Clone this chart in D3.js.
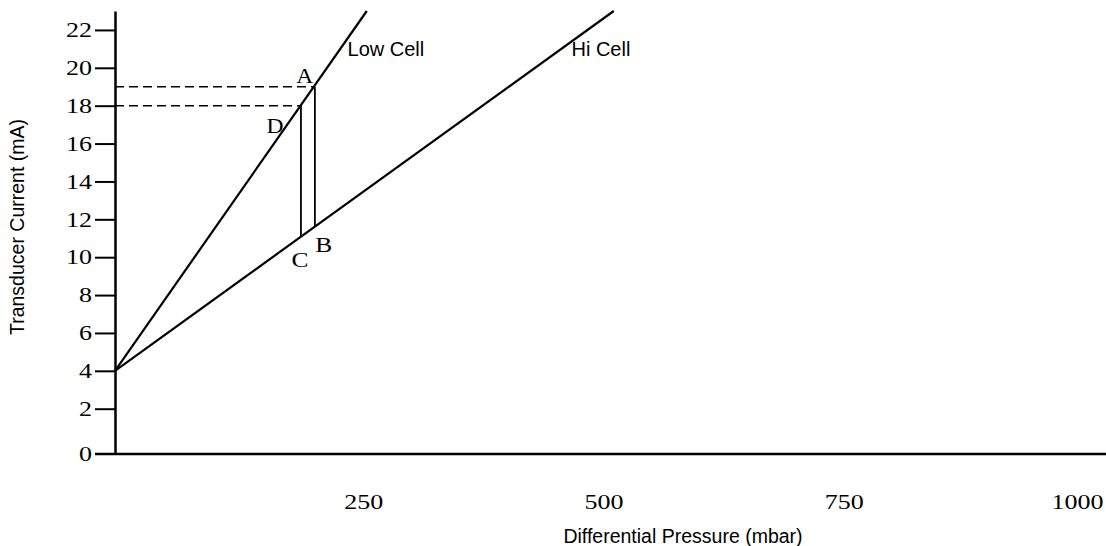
<!DOCTYPE html>
<html>
<head>
<meta charset="utf-8">
<script src="https://cdn.jsdelivr.net/npm/d3@7"></script>
<style>
  html, body { margin: 0; padding: 0; background: #fff; }
  svg { display: block; }
</style>
</head>
<body>
<svg id="chart" width="1106" height="546"></svg>
<script>
// ---- data ----
const xTickValues = [250, 500, 750, 1000];
const yTickValues = [0, 2, 4, 6, 8, 10, 12, 14, 16, 18, 20, 22];
const lowCell = [[0, 4], [262, 23]];
const hiCell = [[0, 4], [519, 23]];
const pointNames = ["A", "B", "C", "D"];
const pointPressure = [208, 208, 193.5, 193.5];
const pointCurrent = [19, 11.62, 11.08, 18];
const seriesNames = ["Low Cell", "Hi Cell"];
const seriesLabelAt = [[242, 20.6], [475, 20.6]];
const xTitle = "Differential Pressure (mbar)";
const yTitle = "Transducer Current (mA)";

// ---- scales ----
const W = 1106;
const svg = d3.select("#chart");
const x = d3.scaleLinear().domain([0, 1000]).range([115, 1076]);
const y = d3.scaleLinear().domain([0, 2, 23]).range([454, 408.7, 11]);

const serif = "'Liberation Serif', 'Times New Roman', serif";
const sans = "'Liberation Sans', Arial, sans-serif";

// ---- y axis ----
const yAxis = svg.append("g")
  .attr("transform", `translate(${x(0)},0)`)
  .call(d3.axisLeft(y).tickValues(yTickValues).tickSize(20).tickSizeOuter(0).tickPadding(3).tickFormat(d3.format("d")));
yAxis.select(".domain").attr("stroke", "#000").attr("stroke-width", 2.5);
yAxis.selectAll(".tick line").attr("stroke", "#000").attr("stroke-width", 2);
yAxis.selectAll(".tick text")
  .attr("font-family", serif).attr("font-size", 21).attr("fill", "#000")
  .attr("textLength", d => String(d).length * 13)
  .attr("lengthAdjust", "spacingAndGlyphs");
yAxis.selectAll(".tick").filter(d => d === 0).select("line").remove();

// ---- x axis ----
svg.append("line")
  .attr("x1", x(0) - 20).attr("x2", W)
  .attr("y1", y(0)).attr("y2", y(0))
  .attr("stroke", "#000").attr("stroke-width", 2.5);
const xAxis = svg.append("g")
  .attr("transform", `translate(0,${y(0)})`)
  .call(d3.axisBottom(x).tickValues(xTickValues).tickSize(0).tickPadding(40).tickFormat(d3.format("d")));
xAxis.select(".domain").remove();
xAxis.selectAll(".tick text")
  .attr("font-family", serif).attr("font-size", 21).attr("fill", "#000")
  .attr("textLength", d => String(d).length * 13)
  .attr("lengthAdjust", "spacingAndGlyphs")
  .attr("dx", d => Math.min(8, W - 3 - x(d) - String(d).length * 6.5));

// ---- titles ----
svg.append("text")
  .attr("x", 683).attr("y", 543)
  .attr("text-anchor", "middle")
  .attr("font-family", sans).attr("font-size", 19.5)
  .text(xTitle);
svg.append("text")
  .attr("transform", `translate(24,227) rotate(-90)`)
  .attr("text-anchor", "middle")
  .attr("font-family", sans).attr("font-size", 19.5)
  .text(yTitle);

// ---- cell lines ----
const line = d3.line().x(d => x(d[0])).y(d => y(d[1]));
[lowCell, hiCell].forEach(s => {
  svg.append("path").datum(s)
    .attr("d", line)
    .attr("fill", "none").attr("stroke", "#000").attr("stroke-width", 2.2);
});

// series labels
seriesNames.forEach((name, i) => {
  svg.append("text")
    .attr("x", x(seriesLabelAt[i][0]))
    .attr("y", y(seriesLabelAt[i][1]))
    .attr("font-family", sans).attr("font-size", 20)
    .text(name);
});

// ---- construction lines ----
const pts = pointNames.map((n, i) => ({ name: n, p: pointPressure[i], c: pointCurrent[i] }));
const A = pts[0], B = pts[1], C = pts[2], D = pts[3];
[A, D].forEach(pt => {
  svg.append("line")
    .attr("x1", x(0)).attr("x2", x(pt.p))
    .attr("y1", y(pt.c)).attr("y2", y(pt.c))
    .attr("stroke", "#000").attr("stroke-width", 1.5)
    .attr("stroke-dasharray", "9,5");
});
[[A, B], [D, C]].forEach(([p1, p2]) => {
  svg.append("line")
    .attr("x1", x(p1.p)).attr("x2", x(p2.p))
    .attr("y1", y(p1.c)).attr("y2", y(p2.c))
    .attr("stroke", "#000").attr("stroke-width", 1.8);
});

const letterOffset = { A: [-10, -4], B: [9, 25], C: [-1, 30], D: [-26, 27] };
pts.forEach(pt => {
  svg.append("text")
    .attr("x", x(pt.p) + letterOffset[pt.name][0])
    .attr("y", y(pt.c) + letterOffset[pt.name][1])
    .attr("text-anchor", "middle")
    .attr("font-family", serif).attr("font-size", 21)
    .attr("textLength", 17).attr("lengthAdjust", "spacingAndGlyphs")
    .text(pt.name);
});
</script>
</body>
</html>
